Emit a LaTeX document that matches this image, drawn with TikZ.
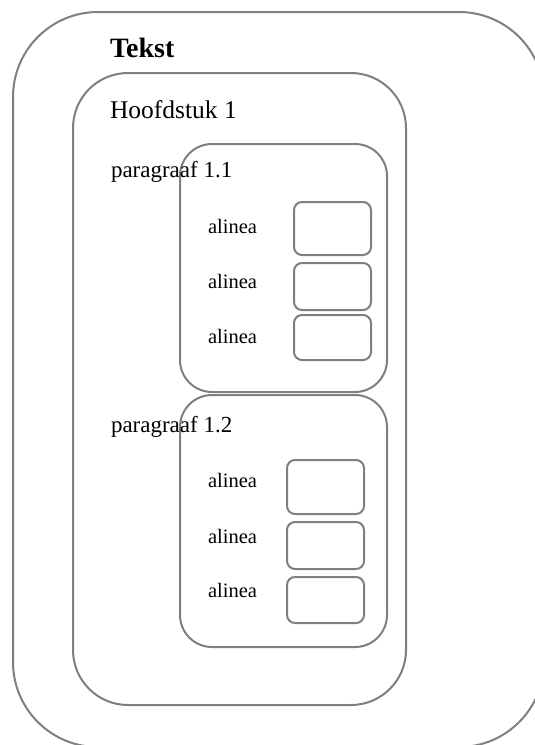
\documentclass[tikz,border=0pt]{standalone}
\usepackage{fontspec}
\setmainfont{Liberation Serif}
\definecolor{boxgray}{HTML}{7F7F7F}
\tikzset{
  frame/.style={draw=boxgray, line width=2pt},
  lbl/.style={anchor=base west, inner sep=0pt, outer sep=0pt},
}
\begin{document}
\begin{tikzpicture}[x=1pt,y=-1pt]
\useasboundingbox (0,0) rectangle (535,745);
\clip (0,0) rectangle (535,745);
% outer box
\draw[frame, rounded corners=85pt] (13,12) rectangle (544,747);
% Hoofdstuk box
\draw[frame, rounded corners=55pt] (73,73) rectangle (406,705);
% paragraaf boxes
\draw[frame, rounded corners=32pt] (180,144) rectangle (387,392);
\draw[frame, rounded corners=32pt] (180,395) rectangle (387,647);
% alinea boxes 1.1
\draw[frame, rounded corners=8pt] (294,202) rectangle (371,255);
\draw[frame, rounded corners=8pt] (294,263) rectangle (371,310);
\draw[frame, rounded corners=8pt] (294,315) rectangle (371,360);
% alinea boxes 1.2
\draw[frame, rounded corners=8pt] (287,460) rectangle (364,514);
\draw[frame, rounded corners=8pt] (287,522) rectangle (364,569);
\draw[frame, rounded corners=8pt] (287,577) rectangle (364,623);
% texts
\node[lbl, font=\fontsize{28}{30}\selectfont\bfseries] (tekst) at (110,57) {Tekst};
\node[lbl, font=\fontsize{25.5}{28}\selectfont] (hfd) at (110,118) {Hoofdstuk 1};
\node[lbl, font=\fontsize{23}{26}\selectfont] (p11) at (111,177) {paragraaf 1.1};
\node[lbl, font=\fontsize{23}{26}\selectfont] (p12) at (111,432) {paragraaf 1.2};
\node[lbl, font=\fontsize{20.5}{23}\selectfont] (a1) at (208,233) {alinea};
\node[lbl, font=\fontsize{20.5}{23}\selectfont] (a2) at (208,288) {alinea};
\node[lbl, font=\fontsize{20.5}{23}\selectfont] (a3) at (208,343) {alinea};
\node[lbl, font=\fontsize{20.5}{23}\selectfont] (a4) at (208,487) {alinea};
\node[lbl, font=\fontsize{20.5}{23}\selectfont] (a5) at (208,543) {alinea};
\node[lbl, font=\fontsize{20.5}{23}\selectfont] (a6) at (208,597) {alinea};
\end{tikzpicture}
\end{document}
